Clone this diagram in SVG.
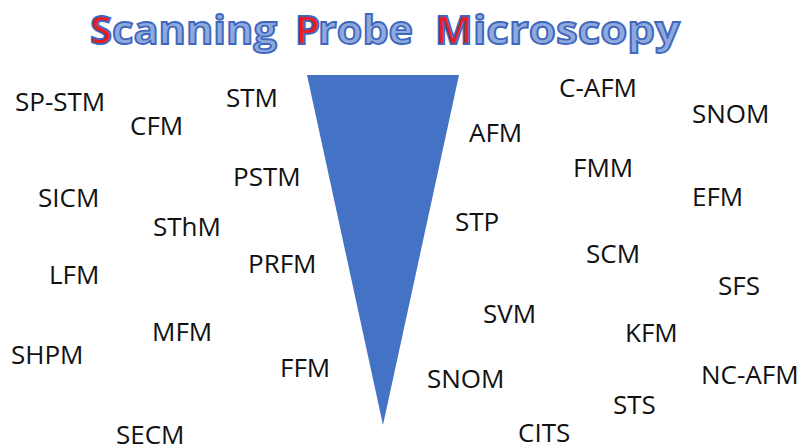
<svg xmlns="http://www.w3.org/2000/svg" width="805" height="447" viewBox="0 0 805 447">
<style>
.lbl{font-family:"Open Sans","Noto Sans",sans-serif;font-size:26px;fill:#111;}
.title{font-family:"Open Sans","Noto Sans",sans-serif;font-size:40px;font-weight:bold;fill:#8eaadc;stroke:#3f67bd;stroke-width:1.8;}
.red{fill:#ec1c24;}
</style>
<rect width="805" height="447" fill="#ffffff"/>
<g id="title">
<text class="title red" x="90" y="44">S</text>
<text class="title" x="112" y="44" textLength="165" lengthAdjust="spacingAndGlyphs">canning</text>
<text class="title red" x="295" y="44">P</text>
<text class="title" x="318" y="44" textLength="95" lengthAdjust="spacingAndGlyphs">robe</text>
<text class="title red" x="435" y="44">M</text>
<text class="title" x="473" y="44" textLength="207" lengthAdjust="spacingAndGlyphs">icroscopy</text>
</g>
<g id="probe"><polygon points="307,75 459,75 383,425" fill="#4472c4"/></g>
<g id="n-spstm"><text class="lbl" x="15" y="111">SP-STM</text></g>
<g id="n-cfm"><text class="lbl" x="130" y="135">CFM</text></g>
<g id="n-stm"><text class="lbl" x="226" y="107">STM</text></g>
<g id="n-pstm"><text class="lbl" x="233" y="186">PSTM</text></g>
<g id="n-sicm"><text class="lbl" x="38" y="207">SICM</text></g>
<g id="n-sthm"><text class="lbl" x="153" y="236">SThM</text></g>
<g id="n-prfm"><text class="lbl" x="248" y="273">PRFM</text></g>
<g id="n-lfm"><text class="lbl" x="49" y="284">LFM</text></g>
<g id="n-mfm"><text class="lbl" x="152" y="341">MFM</text></g>
<g id="n-shpm"><text class="lbl" x="11" y="364">SHPM</text></g>
<g id="n-ffm"><text class="lbl" x="280" y="377">FFM</text></g>
<g id="n-secm"><text class="lbl" x="116" y="444">SECM</text></g>
<g id="n-cafm"><text class="lbl" x="559" y="97">C-AFM</text></g>
<g id="n-snom1"><text class="lbl" x="692" y="123">SNOM</text></g>
<g id="n-afm"><text class="lbl" x="469" y="142">AFM</text></g>
<g id="n-fmm"><text class="lbl" x="573" y="177">FMM</text></g>
<g id="n-efm"><text class="lbl" x="692" y="206">EFM</text></g>
<g id="n-stp"><text class="lbl" x="455" y="231">STP</text></g>
<g id="n-scm"><text class="lbl" x="586" y="263">SCM</text></g>
<g id="n-sfs"><text class="lbl" x="718" y="295">SFS</text></g>
<g id="n-svm"><text class="lbl" x="483" y="323">SVM</text></g>
<g id="n-kfm"><text class="lbl" x="625" y="342">KFM</text></g>
<g id="n-snom2"><text class="lbl" x="427" y="388">SNOM</text></g>
<g id="n-ncafm"><text class="lbl" x="701" y="384">NC-AFM</text></g>
<g id="n-sts"><text class="lbl" x="613" y="414">STS</text></g>
<g id="n-cits"><text class="lbl" x="518" y="442">CITS</text></g>
</svg>
